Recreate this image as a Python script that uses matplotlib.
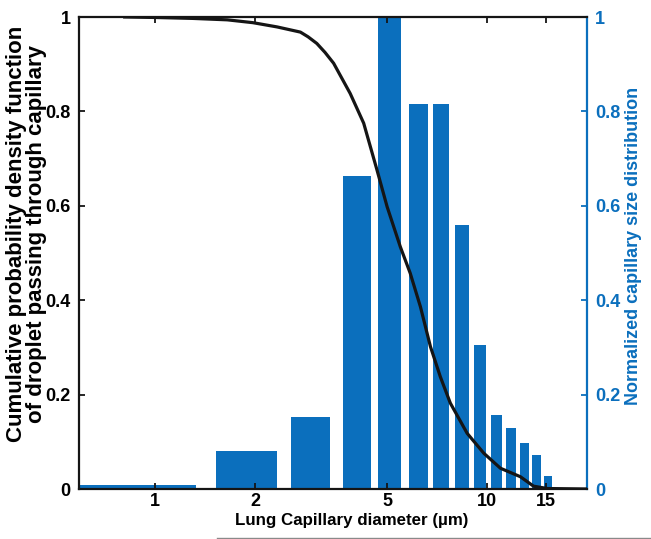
import matplotlib
matplotlib.use("Agg")
import matplotlib.pyplot as plt
from matplotlib.lines import Line2D
from matplotlib.ticker import NullLocator, FixedLocator, FixedFormatter

plt.rcParams['font.family'] = ['Liberation Sans', 'DejaVu Sans']
plt.rcParams['font.weight'] = 'bold'

# capillary size distribution (bars, right axis)
bar_x = [0.93, 1.93, 2.975, 4.07, 5.095, 6.225, 7.295, 8.42, 9.56, 10.675, 11.815, 12.93, 14.1, 15.27]
bar_h = [0.008, 0.080, 0.153, 0.663, 1.0, 0.816, 0.816, 0.559, 0.305, 0.157, 0.130, 0.097, 0.071, 0.028]

# cumulative probability of droplet passing (curve, left axis)
cdf_x = [0.81, 1.0, 1.30, 1.65, 1.97, 2.33, 2.74, 2.89, 3.07, 3.25, 3.45, 3.87, 4.25, 4.66, 5.0, 5.48, 5.87,
         6.30, 6.75, 7.23, 7.75, 8.71, 9.77, 10.97, 12.6, 13.8, 15.2, 20.0]
cdf_y = [1.0, 0.999, 0.997, 0.994, 0.988, 0.979, 0.968, 0.958, 0.944, 0.925, 0.902, 0.838, 0.775, 0.676, 0.598,
         0.513, 0.457, 0.386, 0.302, 0.238, 0.182, 0.118, 0.076, 0.044, 0.026, 0.006, 0.001, 0.0]

xticks = [1, 2, 5, 10, 15]
yticks = [0, 0.2, 0.4, 0.6, 0.8, 1]
ytick_labels = ['0', '0.2', '0.4', '0.6', '0.8', '1']

blue = '#0b6fbd'

fig = plt.figure(figsize=(6.51, 5.39), dpi=100)
ax = fig.add_axes([79/651, 1-489/539, 508/651, 472/539])
ax2 = ax.twinx()

ax.set_xscale('log')
ax2.bar(bar_x, bar_h, width=0.8, color=blue, edgecolor='none', zorder=1)
ax.plot(cdf_x, cdf_y, color='#151515', lw=2.3, zorder=3, solid_joinstyle='round')

ax.set_zorder(ax2.get_zorder() + 1)
ax.patch.set_visible(False)

ax.set_xlim(0.59, 20)
ax.set_ylim(0, 1)
ax2.set_ylim(0, 1)

ax.xaxis.set_major_locator(FixedLocator(xticks))
ax.xaxis.set_major_formatter(FixedFormatter([str(t) for t in xticks]))
ax.xaxis.set_minor_locator(NullLocator())
ax.set_yticks(yticks)
ax.set_yticklabels(ytick_labels)
ax2.set_yticks(yticks)
ax2.set_yticklabels(ytick_labels)

ax.tick_params(axis='x', direction='in', top=True, length=4, width=1.3, labelsize=13, pad=3, color='#151515')
ax.tick_params(axis='y', direction='in', length=4, width=1.3, labelsize=13, pad=6, color='#151515')
ax2.tick_params(axis='y', direction='in', length=4, width=1.3, labelsize=13, pad=6, colors=blue)

for s in ['left', 'top', 'bottom']:
    ax.spines[s].set_linewidth(1.6)
    ax.spines[s].set_color('#151515')
ax.spines['right'].set_visible(False)
ax2.spines['right'].set_color(blue)
ax2.spines['right'].set_linewidth(1.6)
for s in ['left', 'top', 'bottom']:
    ax2.spines[s].set_visible(False)

ax.set_xlabel('Lung Capillary diameter (µm)', fontsize=12.2, fontweight='bold')
ax.xaxis.set_label_coords(0.537, -0.05)
ax.set_ylabel('Cumulative probability density function\nof droplet passing through capillary',
              fontsize=16, fontweight='bold', linespacing=0.92)
ax.yaxis.set_label_coords(-0.063, 0.54)
ax2.set_ylabel('Normalized capillary size distribution', fontsize=13, fontweight='bold', color=blue)
ax2.yaxis.set_label_coords(1.075, 0.515)

fig.add_artist(Line2D([217/651, 1], [1.5/539, 1.5/539], color='#8a8a8a', lw=1))

fig.savefig('out.png', dpi=100)
